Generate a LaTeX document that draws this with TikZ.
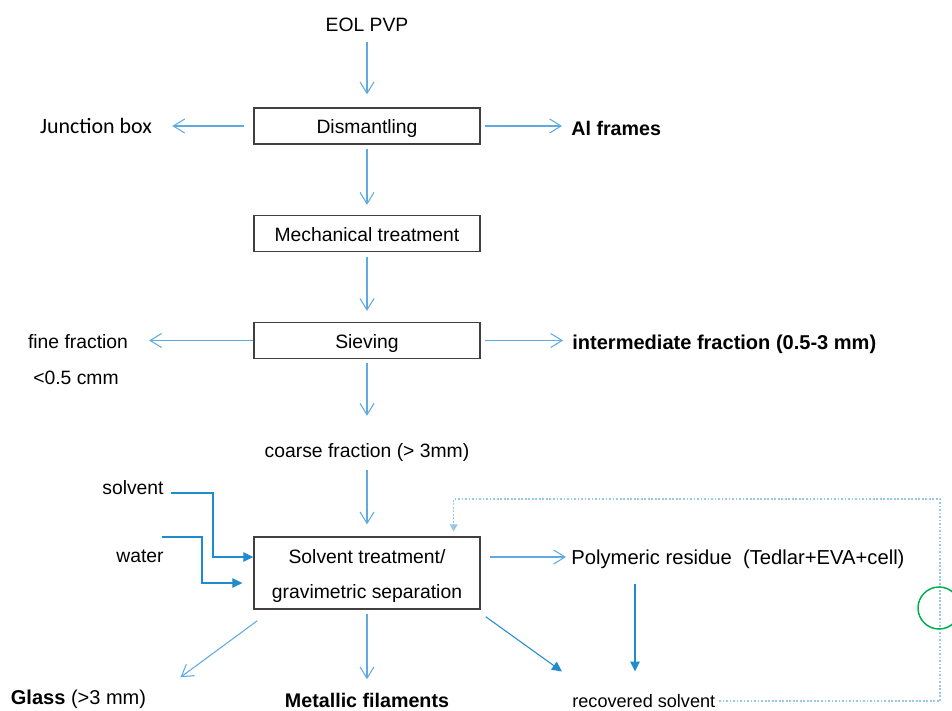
\documentclass[tikz,border=0pt]{standalone}
\usepackage{fontspec}
\setmainfont{Liberation Sans}
\newfontfamily\calibrifont{Carlito}
\usetikzlibrary{arrows.meta}
\definecolor{flowblue}{RGB}{95,170,225}
\definecolor{tipblue}{RGB}{30,140,205}
\definecolor{loopblue}{RGB}{150,200,235}
\definecolor{ringgreen}{RGB}{0,176,80}

\begin{document}
\begin{tikzpicture}[x=0.02cm,y=-0.02cm,>={Straight Barb[length=6.5pt,width=8pt]},
  stepbox/.style={draw=black!75, line width=0.8pt, minimum width=4.52cm, minimum height=0.72cm, inner sep=0pt, text height=9pt, text depth=0pt, font=\fontsize{11}{13}\selectfont},
  lbl/.style={inner sep=2pt, font=\fontsize{11}{13}\selectfont},
  boldlbl/.style={lbl, font=\fontsize{11.2}{13}\selectfont\bfseries},
  flow/.style={->, flowblue, line width=0.6pt},
  feed/.style={-{Triangle[length=5.7pt,width=5.4pt]}, tipblue, line width=0.6pt},
  loopline/.style={loopblue, line width=0.6pt, dash pattern=on 1pt off 1pt, -{Triangle[length=4pt,width=4.5pt]}}]
  \useasboundingbox (0,0) rectangle (952,710);

  \node[lbl] (eol) at (367,25) {EOL PVP};
  \node[stepbox] (dis) at (367,126) {Dismantling};
  \node[lbl, font=\calibrifont\fontsize{12.5}{15}\selectfont] (jbox) at (96,126) {Junction box};
  \node[boldlbl, anchor=west] (alf) at (567.5,128) {Al frames};
  \node[stepbox] (mech) at (367,233.5) {Mechanical treatment};
  \node[stepbox] (siev) at (367,340.5) {Sieving};
  \node[lbl] (fine) at (78,342) {fine fraction};
  \node[lbl] (finesz) at (76,378) {<0.5 cmm};
  \node[boldlbl, anchor=west, font=\fontsize{11.4}{13}\selectfont\bfseries] (inter) at (568.5,344) {intermediate fraction (0.5-3 mm)};
  \node[lbl] (coarse) at (367,452) {coarse fraction (> 3mm)};
  \node[stepbox, minimum height=1.44cm, text height=28.8pt, align=center, font=\fontsize{11}{19.8}\selectfont] (solv) at (367,573) {Solvent treatment/\\gravimetric separation};
  \node[lbl] (solvin) at (133,488) {solvent};
  \node[lbl] (water) at (140,556) {water};
  \coordinate (watin) at (162,537);
  \node[lbl, anchor=west, font=\fontsize{11.5}{13}\selectfont] (poly) at (567.5,559) {Polymeric residue\ \ (Tedlar+EVA+cell)};
  \node[lbl, anchor=west, font=\fontsize{10.3}{12}\selectfont] (rec) at (568.5,701) {recovered solvent};
  \node[lbl, font=\fontsize{11.4}{13}\selectfont] (glass) at (78.5,699) {\textbf{Glass} (>3 mm)};
  \node[boldlbl] (metal) at (367,700) {Metallic filaments};
  \coordinate (loopcorner) at (940,499);

  \draw[flow, shorten <=3.7pt, shorten >=7.4pt] (eol) -- (dis);
  \draw[flow, shorten <=5.1pt, shorten >=9.4pt] (dis) -- (jbox);
  \draw[flow, shorten <=2.3pt, shorten >=3.1pt] (dis.east) -- (dis.east -| alf.west);
  \draw[flow, shorten <=2.3pt, shorten >=5.7pt] (dis) -- (mech);
  \draw[flow, shorten <=2.8pt, shorten >=6.2pt] (mech) -- (siev);
  \draw[flow, shorten >=9.9pt] (siev.west) -- (siev.west -| fine.east);
  \draw[flow, shorten <=2.3pt, shorten >=3.1pt] (siev.east) -- (siev.east -| inter.west);
  \draw[flow, shorten <=2.3pt, shorten >=13.3pt] (siev) -- (coarse);
  \draw[flow, shorten <=3.1pt, shorten >=6.8pt] (coarse) -- (solv);

  \draw[feed] ([shift={(3.5,5)}]solvin.east) -- ++(42,0) |- ([shift={(0,-16)}]solv.west);
  \draw[feed] (watin) -- ++(40,0) |- ([shift={(-11,10)}]solv.west);
  \draw[flow, shorten <=5.1pt, shorten >=0.85pt] ([shift={(0,-16)}]solv.east) -- ([shift={(0,-16)}]solv.east -| poly.west);
  \draw[feed, shorten <=6.5pt, shorten >=10.8pt] ([shift={(67.5,0)}]poly.south west) -- ([shift={(66.5,0)}]rec.north west);
  \draw[feed] ([shift={(5,7)}]solv.south east) -- ([shift={(-6.5,-19)}]rec.north west);
  \draw[flow] ([shift={(4,11)}]solv.south west) -- ([shift={(30.5,-8.5)}]glass.north east);
  \draw[flow, shorten <=2.3pt, shorten >=5.5pt] (solv) -- (metal);
  \draw[loopline, shorten >=2.8pt] (rec.east) -| (loopcorner) -| ([shift={(-27,0)}]solv.north east);

  \draw[ringgreen, line width=0.85pt] (939,608) circle[radius=21];
\end{tikzpicture}
\end{document}
